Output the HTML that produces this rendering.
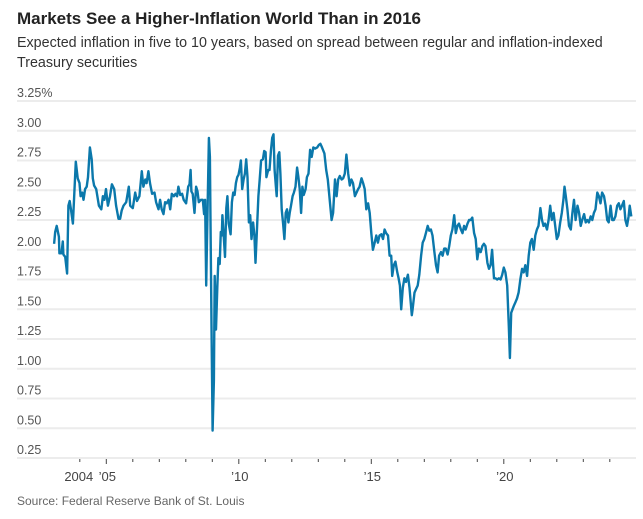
<!DOCTYPE html>
<html><head><meta charset="utf-8"><style>
body{margin:0;background:#fff;width:643px;height:519px;overflow:hidden;font-family:"Liberation Sans",sans-serif}
</style></head><body>
<svg width="643" height="519" style="position:absolute;left:0;top:0">
<text x="17" y="24" font-size="17" font-weight="bold" fill="#222">Markets See a Higher-Inflation World Than in 2016</text>
<text x="17" y="47" font-size="14.3" fill="#333">Expected inflation in five to 10 years, based on spread between regular and inflation-indexed</text>
<text x="17" y="67" font-size="14.3" fill="#333">Treasury securities</text>
<g id="grid"></g>
<g id="xaxis"></g>
<path id="line" fill="none" stroke="#0b78ab" stroke-width="2.4" stroke-linejoin="round"/>
<text x="17" y="505" font-size="12" fill="#666">Source: Federal Reserve Bank of St. Louis</text>
</svg>
<script>
const yTicks=[0.25,0.5,0.75,1,1.25,1.5,1.75,2,2.25,2.5,2.75,3,3.25];
const yTickLabels=["0.25","0.50","0.75","1.00","1.25","1.50","1.75","2.00","2.25","2.50","2.75","3.00","3.25%"];
const xTickYears=[2004,2005,2006,2007,2008,2009,2010,2011,2012,2013,2014,2015,2016,2017,2018,2019,2020,2021,2022,2023,2024];
const xLabelYears=[2004,2005,2010,2015,2020];
const xLabels=["2004","’05","’10","’15","’20"];
const dates=[2003.03,2003.07,2003.13,2003.21,2003.23,2003.31,2003.36,2003.38,2003.45,2003.52,2003.57,2003.62,2003.67,2003.74,2003.85,2003.92,2003.99,2004.03,2004.09,2004.14,2004.20,2004.26,2004.31,2004.38,2004.45,2004.49,2004.54,2004.62,2004.72,2004.81,2004.87,2004.93,2004.99,2005.06,2005.14,2005.21,2005.30,2005.37,2005.46,2005.52,2005.58,2005.65,2005.75,2005.85,2005.90,2006.00,2006.09,2006.16,2006.25,2006.34,2006.40,2006.47,2006.52,2006.59,2006.65,2006.73,2006.82,2006.88,2006.97,2007.03,2007.09,2007.16,2007.22,2007.28,2007.35,2007.41,2007.47,2007.55,2007.61,2007.67,2007.72,2007.79,2007.86,2007.92,2008.01,2008.09,2008.14,2008.18,2008.21,2008.26,2008.33,2008.39,2008.44,2008.49,2008.57,2008.64,2008.69,2008.73,2008.77,2008.82,2008.87,2008.91,2008.97,2009.01,2009.06,2009.09,2009.14,2009.19,2009.23,2009.28,2009.32,2009.36,2009.38,2009.43,2009.48,2009.53,2009.57,2009.62,2009.69,2009.74,2009.79,2009.84,2009.89,2009.94,2009.99,2010.04,2010.08,2010.13,2010.18,2010.23,2010.28,2010.33,2010.38,2010.43,2010.48,2010.54,2010.59,2010.63,2010.68,2010.74,2010.79,2010.84,2010.91,2010.96,2011.01,2011.04,2011.11,2011.16,2011.21,2011.26,2011.31,2011.35,2011.40,2011.43,2011.48,2011.53,2011.57,2011.62,2011.67,2011.72,2011.77,2011.82,2011.87,2011.92,2011.97,2012.03,2012.08,2012.14,2012.20,2012.25,2012.30,2012.35,2012.40,2012.45,2012.52,2012.57,2012.63,2012.69,2012.75,2012.81,2012.88,2012.96,2013.02,2013.08,2013.14,2013.23,2013.30,2013.36,
2013.50,2013.56,2013.63,2013.69,2013.75,2013.81,2013.88,2013.94,2014.00,2014.06,2014.13,2014.19,2014.25,2014.31,2014.38,2014.44,2014.50,2014.56,2014.63,2014.69,2014.75,2014.81,2014.88,2014.94,2015.00,2015.06,2015.13,2015.19,2015.25,2015.31,2015.38,2015.44,2015.50,2015.56,2015.63,2015.69,2015.75,2015.79,2015.85,2015.91,2015.98,2016.03,2016.08,2016.13,2016.19,2016.25,2016.31,2016.38,2016.44,2016.53,2016.56,2016.63,2016.69,2016.75,2016.81,2016.88,2016.94,2017.00,2017.06,2017.13,2017.19,2017.25,2017.31,2017.38,2017.44,2017.50,2017.56,2017.63,2017.69,2017.75,2017.81,2017.88,2017.94,2018.00,2018.06,2018.13,2018.19,2018.25,2018.31,2018.38,2018.44,2018.50,2018.56,2018.63,2018.69,2018.75,2018.81,2018.88,2018.94,2019.00,2019.06,2019.13,2019.19,2019.25,2019.31,2019.38,2019.44,2019.50,2019.56,2019.63,2019.69,2019.75,2019.81,2019.88,2019.94,2020.00,2020.06,2020.13,2020.19,2020.23,2020.28,2020.33,2020.38,2020.44,2020.50,2020.56,2020.63,2020.69,2020.75,2020.81,2020.88,2020.94,2021.00,2021.06,2021.13,2021.19,2021.25,2021.31,2021.38,2021.44,2021.50,2021.56,2021.63,2021.69,2021.75,2021.81,2021.88,2021.94,2022.00,2022.06,2022.13,2022.19,2022.25,2022.29,2022.34,2022.40,2022.46,2022.53,2022.59,2022.65,2022.71,2022.78,2022.84,2022.90,2022.96,2023.03,2023.09,2023.15,2023.21,2023.28,2023.34,2023.40,2023.46,2023.53,2023.59,2023.65,2023.71,2023.78,2023.84,2023.90,2023.96,2024.03,2024.09,2024.15,2024.21,2024.28,2024.34,2024.40,2024.46,2024.53,2024.59,2024.65,2024.71,2024.75,2024.81];
const values=[2.05,2.15,2.20,2.11,1.97,1.97,2.07,1.96,1.94,1.80,2.37,2.41,2.33,2.22,2.74,2.60,2.56,2.45,2.48,2.42,2.51,2.53,2.61,2.86,2.76,2.60,2.54,2.51,2.37,2.34,2.45,2.42,2.51,2.37,2.45,2.55,2.51,2.37,2.26,2.26,2.33,2.37,2.40,2.53,2.37,2.35,2.48,2.41,2.45,2.66,2.53,2.59,2.56,2.66,2.56,2.47,2.48,2.40,2.34,2.42,2.34,2.30,2.40,2.39,2.42,2.34,2.47,2.45,2.47,2.45,2.53,2.46,2.47,2.42,2.39,2.53,2.55,2.67,2.49,2.47,2.31,2.53,2.49,2.40,2.42,2.42,2.30,2.42,1.70,2.31,2.94,2.78,1.36,0.48,0.90,1.78,1.33,1.68,1.93,1.88,2.15,2.12,2.29,2.12,1.94,2.35,2.45,2.22,2.13,2.40,2.48,2.46,2.56,2.61,2.63,2.69,2.75,2.51,2.59,2.64,2.76,2.61,2.23,2.29,2.09,2.23,2.12,1.89,2.14,2.45,2.59,2.75,2.76,2.83,2.82,2.61,2.67,2.67,2.83,2.94,2.97,2.67,2.53,2.45,2.79,2.82,2.64,2.34,2.22,2.09,2.31,2.34,2.23,2.31,2.37,2.45,2.48,2.53,2.69,2.61,2.51,2.31,2.53,2.46,2.51,2.61,2.64,2.84,2.78,2.86,2.85,2.86,2.88,2.89,2.86,2.81,2.67,2.59,
2.25,2.31,2.59,2.45,2.59,2.62,2.59,2.60,2.64,2.80,2.64,2.54,2.59,2.56,2.45,2.48,2.51,2.53,2.60,2.56,2.51,2.34,2.39,2.31,2.14,2.00,2.06,2.12,2.06,2.12,2.13,2.09,2.17,2.14,2.12,1.95,1.95,1.78,1.87,1.90,1.81,1.76,1.70,1.50,1.68,1.76,1.73,1.79,1.68,1.45,1.50,1.64,1.67,1.70,1.79,1.95,2.06,2.09,2.14,2.20,2.16,2.17,2.12,1.98,1.87,1.81,1.95,1.98,1.95,2.01,2.01,1.96,2.03,2.12,2.17,2.29,2.14,2.20,2.22,2.17,2.14,2.20,2.17,2.22,2.25,2.25,2.27,2.14,2.09,1.92,2.01,1.98,2.03,2.05,2.03,1.89,1.84,1.87,2.00,1.76,1.76,1.75,1.76,1.75,1.79,1.85,1.81,1.70,1.36,1.09,1.47,1.50,1.53,1.56,1.59,1.64,1.76,1.84,1.81,1.87,1.78,1.95,2.06,2.09,2.00,2.12,2.17,2.20,2.35,2.25,2.20,2.22,2.17,2.25,2.37,2.25,2.31,2.20,2.09,2.12,2.23,2.31,2.42,2.53,2.45,2.34,2.20,2.17,2.31,2.42,2.25,2.37,2.31,2.20,2.25,2.30,2.23,2.25,2.23,2.28,2.25,2.31,2.34,2.48,2.45,2.39,2.48,2.45,2.37,2.25,2.23,2.37,2.25,2.25,2.28,2.37,2.39,2.34,2.37,2.41,2.25,2.20,2.28,2.37,2.28];
const NS='http://www.w3.org/2000/svg';
function xs(yr){return 106.3+(yr-2005)*26.5;}
function ys(v){return 458-(v-0.25)*119;}
const grid=document.getElementById('grid');
yTicks.forEach((t,i)=>{
  const l=document.createElementNS(NS,'line');
  l.setAttribute('x1',17);l.setAttribute('x2',636);
  l.setAttribute('y1',ys(t));l.setAttribute('y2',ys(t));
  l.setAttribute('stroke','#ececec');l.setAttribute('stroke-width','2');
  
  
  grid.appendChild(l);
  const tx=document.createElementNS(NS,'text');
  tx.setAttribute('x',17);tx.setAttribute('y',ys(t)-4);
  tx.setAttribute('font-size','12.5');tx.setAttribute('fill','#555');
  tx.textContent=yTickLabels[i];
  
  
  grid.appendChild(tx);
});
const xa=document.getElementById('xaxis');
xTickYears.forEach(yr=>{
  const major=yr%5===0;
  const l=document.createElementNS(NS,'line');
  l.setAttribute('x1',xs(yr));l.setAttribute('x2',xs(yr));
  l.setAttribute('y1',459);l.setAttribute('y2',major?464:462);
  l.setAttribute('stroke','#444');l.setAttribute('stroke-width','1');
  
  
  xa.appendChild(l);
});
xLabelYears.forEach((yr,i)=>{
  const tx=document.createElementNS(NS,'text');
  tx.setAttribute('x',xs(yr)+(i===0?-1:1));tx.setAttribute('y',481);
  tx.setAttribute('font-size','13');tx.setAttribute('fill','#444');
  tx.setAttribute('text-anchor','middle');
  tx.textContent=xLabels[i];
  
  
  xa.appendChild(tx);
});
let d='';
dates.forEach((yr,i)=>{d+=(i?'L':'M')+xs(yr).toFixed(1)+' '+ys(values[i]).toFixed(1);});
document.getElementById('line').setAttribute('d',d);
</script>
</body></html>
